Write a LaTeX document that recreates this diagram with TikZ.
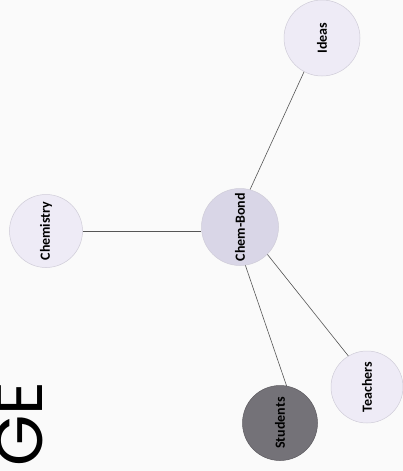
\documentclass[tikz,border=0pt]{standalone}
\usepackage{fontspec}
\setmainfont{Carlito}
\newfontfamily\bigfont{Poppins}
\definecolor{paper}{HTML}{FAFAFA}
\definecolor{lightnode}{HTML}{EEEBF6}
\definecolor{midnode}{HTML}{D9D6E7}
\definecolor{darknode}{HTML}{747278}
\definecolor{edgegray}{HTML}{CFCCD8}
\definecolor{linkgray}{HTML}{555555}
\tikzset{
  bubble/.style={circle, minimum size=75pt, inner sep=0pt, draw=edgegray, line width=0.5pt,
    font=\bfseries\fontsize{14}{16}\selectfont, text=black},
  softbubble/.style={bubble, fill=lightnode},
  hubbubble/.style={bubble, fill=midnode},
  darkbubble/.style={bubble, fill=darknode, draw=darknode!80!black},
  link/.style={draw=linkgray, line width=0.6pt},
}
\begin{document}
\begin{tikzpicture}[x=1pt,y=-1pt]
\fill[paper] (0,0) rectangle (403,471);
\useasboundingbox (0,0) rectangle (403,471);
\node[softbubble, minimum size=76pt] (id) at (322,38) {\rotatebox{90}{Ideas}};
\node[softbubble, minimum size=73pt] (ch) at (46,231) {\rotatebox{90}{Chemistry}};
\node[hubbubble, minimum size=77pt] (cb) at (240,227) {\rotatebox{90}{Chem-Bond}};
\node[darkbubble, minimum size=75pt] (st) at (280,423) {\rotatebox{90}{Students}};
\node[softbubble, minimum size=72pt] (te) at (367,387) {\rotatebox{90}{Teachers}};
\draw[link] (ch.east) -- (cb.west |- ch.east);
\draw[link] (cb.75) -- (id.242);
\draw[link] (cb.278) -- (st.80);
\draw[link] (cb.315) -- (te.121);
\begin{scope}
\clip (0,0) rectangle (403,471);
\node[rotate=90, anchor=base east, inner sep=0pt, font=\bigfont\fontsize{66}{66}\selectfont, text=black] (title) at (42,381) {GE};
\end{scope}
\end{tikzpicture}
\end{document}
